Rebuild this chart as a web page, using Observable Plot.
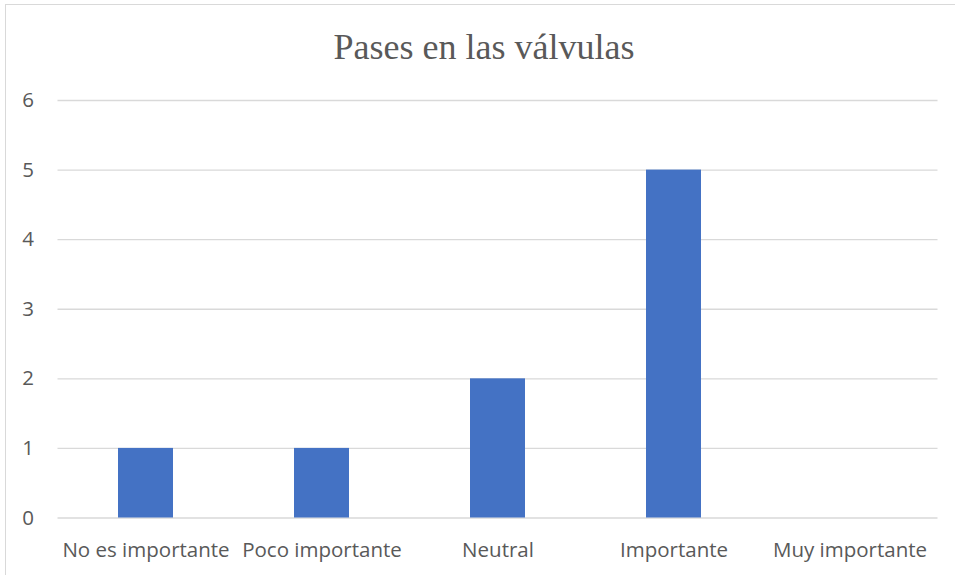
<!DOCTYPE html>
<html>
<head>
<meta charset="utf-8">
<script src="https://cdn.jsdelivr.net/npm/d3@7"></script>
<script src="https://cdn.jsdelivr.net/npm/@observablehq/plot@0.6"></script>
<style>
  html, body { margin: 0; padding: 0; background: #fff; overflow: hidden; }
  #chart { position: relative; width: 955px; height: 575px; }
  #frame {
    position: absolute; left: 5px; top: 4px; width: 1200px; height: 1200px;
    border-left: 1.5px solid #d9d9d9; border-top: 1.5px solid #d9d9d9;
    box-sizing: border-box; pointer-events: none;
  }
  #title {
    position: absolute; left: 484px; top: 25px; transform: translateX(-50%);
    font-family: "Liberation Serif", "Times New Roman", serif;
    font-size: 36px; color: #595959; white-space: nowrap; line-height: 44px;
  }
  #chart svg { position: absolute; left: 0; top: 0; }
</style>
</head>
<body>
<div id="chart">
  <div id="frame"></div>
  <div id="title">Pases en las válvulas</div>
</div>
<script>
const categories = ["No es importante", "Poco importante", "Neutral", "Importante", "Muy importante"];
const values = [1, 1, 2, 5, 0];
const yTicks = [0, 1, 2, 3, 4, 5, 6];

const rows = categories.map((c, i) => ({category: c, value: values[i]}));

const plot = Plot.plot({
  width: 955,
  height: 575,
  marginTop: 100,
  marginBottom: 57.5,
  marginLeft: 57.5,
  marginRight: 17.5,
  style: {
    fontFamily: "'Open Sans', sans-serif",
    fontSize: "20.5px",
    color: "#595959",
    background: "transparent",
    overflow: "visible"
  },
  x: {domain: categories, paddingInner: 0.687, paddingOuter: 0.3435, label: null},
  y: {domain: [0, 6], label: null},
  marks: [
    Plot.ruleY(yTicks, {stroke: "#d9d9d9", strokeWidth: 1.4}),
    Plot.barY(rows, {x: "category", y: "value", fill: "#4472C4"}),
    Plot.axisY({ticks: yTicks, tickFormat: "d", tickSize: 0, tickPadding: 24, label: null, fill: "#595959"}),
    Plot.axisX({tickSize: 0, tickPadding: 24, label: null, fill: "#595959"})
  ]
});

document.getElementById("chart").appendChild(plot);
</script>
</body>
</html>
